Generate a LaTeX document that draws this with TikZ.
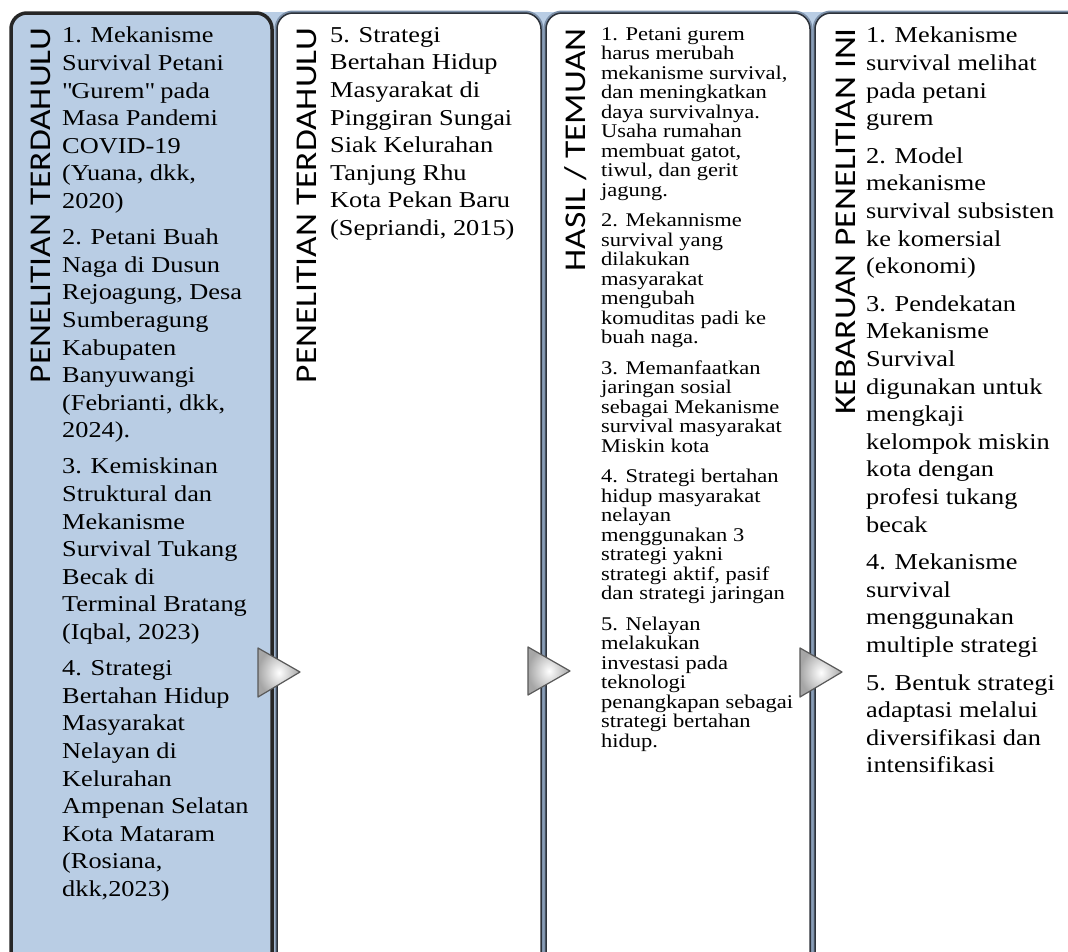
\documentclass[tikz,border=0pt]{standalone}
\usepackage{fontspec}
\setmainfont{Liberation Serif}[FakeStretch=1.16]
\newfontfamily\titlefont{Carlito}
\usetikzlibrary{positioning}

\definecolor{panelblue}{RGB}{185,205,228}
\definecolor{edgeblue}{RGB}{125,145,170}
\definecolor{edgedark}{RGB}{45,50,58}

\tikzset{
  panel/.style={fill=white, rounded corners=16pt, preaction={draw=edgeblue, line width=5pt}, draw=edgedark, line width=1.5pt},
  firstpanel/.style={fill=panelblue, rounded corners=16pt, draw=black!85, line width=3.5pt},
  title/.style={font=\titlefont\fontsize{35.5}{36}\selectfont, inner sep=0pt, anchor=base east, xscale=0.85, rotate=90},
  item/.style={font=\fontsize{22.7}{27.6}\selectfont, align=left, inner sep=0pt, anchor=north west},
  smallitem/.style={font=\fontsize{19.4}{19.5}\selectfont, align=left, inner sep=0pt, anchor=north west},
  arrowtri/.style={inner color=white, outer color=gray!70, draw=black!65, line width=1.2pt, line join=round}
}

\begin{document}
\begin{tikzpicture}[x=1pt, y=-1pt]
  %tikz  kolom penelitian
  \useasboundingbox (0,0) rectangle (1068,951);
  \clip (0,0) rectangle (1068,951);
  \fill[white] (0,0) rectangle (1068,951);
  \fill[panelblue] (250,12) rectangle (1068,990);

  \draw[firstpanel] (11,13) rectangle (272,990);
  \draw[panel] (277,13) rectangle (541,990);
  \draw[panel] (546,13) rectangle (810,990);
  \draw[panel] (815,13) rectangle (1100,990);

  \node[title] (h1) at (50,28) {PENELITIAN TERDAHULU};
  \node[title] (h2) at (316,28) {PENELITIAN TERDAHULU};
  \node[title] (h3) at (585,28) {HASIL / TEMUAN};
  \node[title] (h4) at (855,28) {KEBARUAN PENELITIAN INI};

  \node[item] (t1) at (62,27) {1. Mekanisme\\Survival Petani\\\textquotedbl Gurem\textquotedbl{} pada\\Masa Pandemi\\COVID-19\\(Yuana, dkk,\\2020)\\[8.5pt]
    2. Petani Buah\\Naga di Dusun\\Rejoagung, Desa\\Sumberagung\\Kabupaten\\Banyuwangi\\(Febrianti, dkk,\\2024).\\[8.5pt]
    3. Kemiskinan\\Struktural dan\\Mekanisme\\Survival Tukang\\Becak di\\Terminal Bratang\\(Iqbal, 2023)\\[8.5pt]
    4. Strategi\\Bertahan Hidup\\Masyarakat\\Nelayan di\\Kelurahan\\Ampenan Selatan\\Kota Mataram\\(Rosiana,\\dkk,2023)};

  \node[item] (t2) at (330,27) {5. Strategi\\Bertahan Hidup\\Masyarakat di\\Pinggiran Sungai\\Siak Kelurahan\\Tanjung Rhu\\Kota Pekan Baru\\(Sepriandi, 2015)};

  \node[smallitem] (t3) at (601,27) {1. Petani gurem\\harus merubah\\mekanisme survival,\\dan meningkatkan\\daya survivalnya.\\Usaha rumahan\\membuat gatot,\\tiwul, dan gerit\\jagung.\\[11pt]
    2. Mekannisme\\survival yang\\dilakukan\\masyarakat\\mengubah\\komuditas padi ke\\buah naga.\\[11pt]
    3. Memanfaatkan\\jaringan sosial\\sebagai Mekanisme\\survival masyarakat\\Miskin kota\\[11pt]
    4. Strategi bertahan\\hidup masyarakat\\nelayan\\menggunakan 3\\strategi yakni\\strategi aktif, pasif\\dan strategi jaringan\\[11pt]
    5. Nelayan\\melakukan\\investasi pada\\teknologi\\penangkapan sebagai\\strategi bertahan\\hidup.};

  \node[item] (t4) at (866,27) {1. Mekanisme\\survival melihat\\pada petani\\gurem\\[10pt]
    2. Model\\mekanisme\\survival subsisten\\ke komersial\\(ekonomi)\\[10pt]
    3. Pendekatan\\Mekanisme\\Survival\\digunakan untuk\\mengkaji\\kelompok miskin\\kota dengan\\profesi tukang\\becak\\[10pt]
    4. Mekanisme\\survival\\menggunakan\\multiple strategi\\[10pt]
    5. Bentuk strategi\\adaptasi melalui\\diversifikasi dan\\intensifikasi};

  \shadedraw[arrowtri] (258,648) -- (300,672) -- (258,697) -- cycle;
  \shadedraw[arrowtri] (528,647) -- (570,671) -- (528,695) -- cycle;
  \shadedraw[arrowtri] (800,648) -- (842,672) -- (800,697) -- cycle;
\end{tikzpicture}
\end{document}
